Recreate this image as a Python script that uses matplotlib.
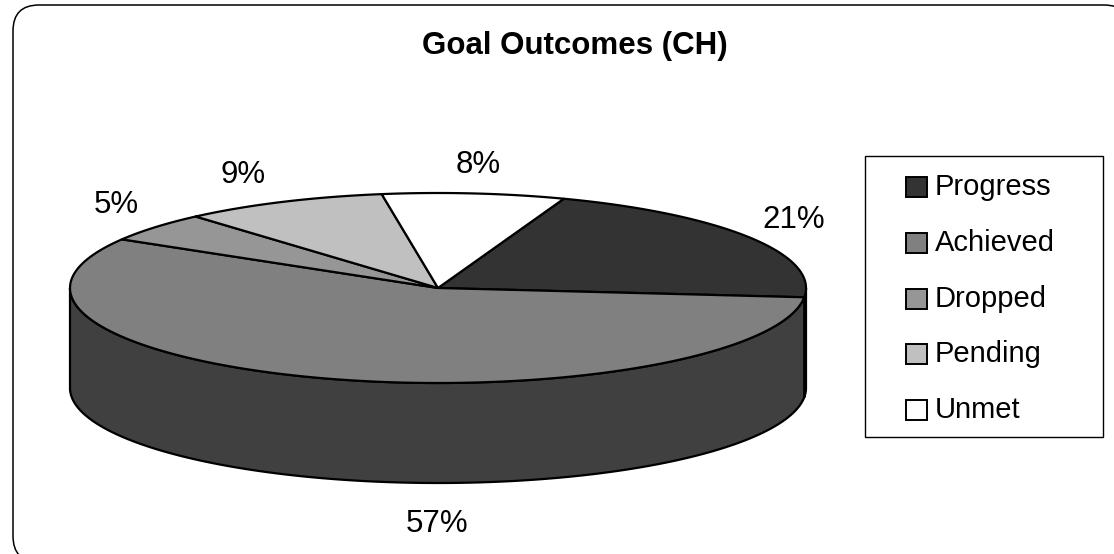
import numpy as np
import matplotlib
matplotlib.use("Agg")
import matplotlib.pyplot as plt
from matplotlib.patches import Polygon, FancyBboxPatch, Rectangle

plt.rcParams["font.family"] = ["Liberation Sans", "DejaVu Sans"]

# data
labels = ["Progress", "Achieved", "Dropped", "Pending", "Unmet"]
values = [21, 57, 5, 9, 8]
top_colors = ["#333333", "#808080", "#969696", "#c0c0c0", "#ffffff"]
side_colors = ["#1a1a1a", "#404040", "#4b4b4b", "#606060", "#808080"]
title = "Goal Outcomes (CH)"

# pie geometry (pixel space, y grows downward)
cx, cy = 438, 288
rx, ry = 368, 95
depth = 100
start_angle = 20  # degrees clockwise from 12 o'clock

# baseline anchor of each percentage label, in pixels
label_pos = [(794, 228), (437, 532), (116, 213), (243, 183), (478, 173)]

W, H = 1114, 554
fig = plt.figure(figsize=(W / 100, H / 100), dpi=100)
ax = fig.add_axes([0, 0, 1, 1])
ax.set_xlim(0, W)
ax.set_ylim(H, 0)
ax.axis("off")

# outer rounded frame (runs past the right and bottom edges)
frame = FancyBboxPatch((13, 5), 1117, 557, boxstyle="round,pad=0,rounding_size=26",
                       fc="white", ec="black", lw=1.1)
ax.add_patch(frame)


def rim(a1, a2, dy=0, n=200):
    t = np.radians(np.linspace(a1, a2, n))
    return np.column_stack([cx + rx * np.sin(t), cy - ry * np.cos(t) + dy])


fracs = np.array(values, dtype=float) / sum(values)
edges = start_angle + 360 * np.concatenate([[0], np.cumsum(fracs)])

# front side walls (visible between 90 and 270 degrees)
for i in range(len(values)):
    a1, a2 = edges[i], edges[i + 1]
    for lo, hi in [(90, 270), (450, 630)]:
        s, e = max(a1, lo), min(a2, hi)
        if e <= s:
            continue
        top = rim(s, e)
        bot = rim(s, e, depth)[::-1]
        ax.add_patch(Polygon(np.vstack([top, bot]), closed=True,
                             fc=side_colors[i], ec="black", lw=1.6, joinstyle="round"))

# top faces
for i in range(len(values)):
    a1, a2 = edges[i], edges[i + 1]
    pts = np.vstack([[cx, cy], rim(a1, a2)])
    ax.add_patch(Polygon(pts, closed=True, fc=top_colors[i], ec="black",
                         lw=1.6, joinstyle="round"))

# percentage labels
for (x, y), v in zip(label_pos, values):
    ax.text(x, y, f"{v}%", fontsize=22.5, ha="center", va="baseline")

ax.text(575, 54, title, fontsize=22.5, fontweight="bold", ha="center", va="baseline")

# legend box
ax.add_patch(Rectangle((865, 156), 238, 281, fc="white", ec="black", lw=1.0))
for k, (lab, col) in enumerate(zip(labels, top_colors)):
    yy = 187 + k * 55.8
    ax.add_patch(Rectangle((906, yy - 10), 21, 20, fc=col, ec="black", lw=1.4))
    ax.text(935, yy + 8, lab, fontsize=21, ha="left", va="baseline")

fig.savefig("out.png", dpi=100)
